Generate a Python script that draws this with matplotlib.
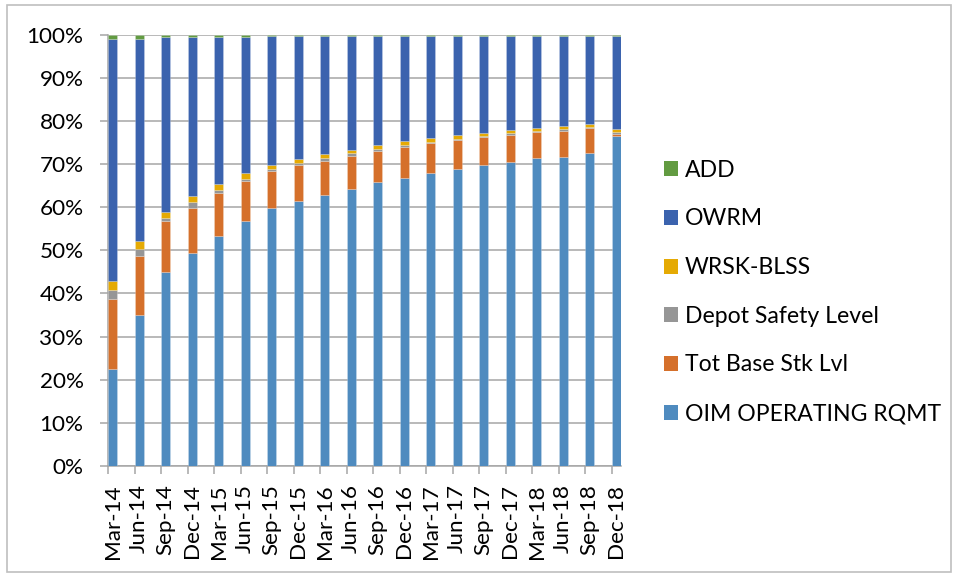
import matplotlib
matplotlib.use("Agg")
import matplotlib.pyplot as plt
from matplotlib.patches import Rectangle, Patch
import numpy as np

plt.rcParams['font.family'] = ['Lato', 'DejaVu Sans']

# Quarterly periods
periods = ["Mar-14", "Jun-14", "Sep-14", "Dec-14", "Mar-15", "Jun-15", "Sep-15",
           "Dec-15", "Mar-16", "Jun-16", "Sep-16", "Dec-16", "Mar-17", "Jun-17",
           "Sep-17", "Dec-17", "Mar-18", "Jun-18", "Sep-18", "Dec-18"]

# Share of total requirement per component (percent), bottom to top
oim_operating = [22.4, 35.0, 44.9, 49.3, 53.4, 56.8, 59.8, 61.5, 62.9, 64.3,
                 65.8, 66.8, 67.9, 68.9, 69.8, 70.5, 71.4, 71.6, 72.6, 76.5]
tot_base_stk = [16.3, 13.6, 11.9, 10.6, 10.0, 9.3, 8.6, 8.2, 7.9, 7.6,
                7.3, 7.1, 6.9, 6.6, 6.5, 6.2, 6.1, 6.1, 5.8, 0.4]
depot_safety = [2.1, 1.7, 0.7, 1.4, 0.6, 0.5, 0.5, 0.5, 0.7, 0.6,
                0.4, 0.6, 0.4, 0.4, 0.3, 0.5, 0.2, 0.4, 0.2, 0.6]
wrsk_blss = [2.1, 1.9, 1.4, 1.4, 1.3, 1.3, 0.9, 1.0, 0.9, 0.8,
             1.0, 0.9, 0.9, 0.8, 0.7, 0.8, 0.7, 0.8, 0.8, 0.7]
owrm = [56.2, 46.9, 40.5, 36.7, 34.1, 31.6, 29.8, 28.4, 27.2, 26.3,
        25.1, 24.2, 23.5, 22.9, 22.3, 21.6, 21.2, 20.7, 20.2, 21.4]
add = [0.9, 0.9, 0.6, 0.6, 0.6, 0.5, 0.4, 0.4, 0.4, 0.4,
       0.4, 0.4, 0.4, 0.4, 0.4, 0.4, 0.4, 0.4, 0.4, 0.4]

series = [
    ("OIM OPERATING RQMT", oim_operating, "#4f8bbf"),
    ("Tot Base Stk Lvl", tot_base_stk, "#d5702b"),
    ("Depot Safety Level", depot_safety, "#969696"),
    ("WRSK-BLSS", wrsk_blss, "#e5aa04"),
    ("OWRM", owrm, "#3b63ae"),
    ("ADD", add, "#629b41"),
]

W, H = 956, 577
fig = plt.figure(figsize=(W / 100, H / 100), dpi=100)
ax = fig.add_axes([108.3 / W, 1 - 466 / H, (620.7 - 108.3) / W, (466 - 34.7) / H])

x = np.arange(len(periods))
bar_w = 0.335
stack = np.array([np.asarray(v, float) for _, v, _ in series])
totals = stack.sum(axis=0)
bottom = np.zeros(len(periods))
handles = []
for (name, vals, col), row in zip(series, stack):
    pct = row / totals * 100
    ax.bar(x, pct, bar_w, bottom=bottom, align="edge", color=col,
           edgecolor=(1, 1, 1, 0.35), linewidth=0.4, zorder=3)
    bottom += pct
    handles.append(Patch(facecolor=col, edgecolor="none", label=name))

grid_col = "#a6a6a6"
ax.set_ylim(0, 100)
ax.set_xlim(0, len(periods) - 1 + bar_w)
ax.set_yticks(np.arange(0, 101, 10))
ax.set_yticklabels([f"{v}%" for v in range(0, 101, 10)])
ax.yaxis.grid(True, color=grid_col, linewidth=1.1, zorder=0)
ax.set_axisbelow(True)

# Tick marks at each bar's left edge; labels centred under the bars
ax.set_xticks(x + bar_w / 2)
ax.set_xticklabels(periods, rotation=90)
ax.set_xticks(x, minor=True)
ax.tick_params(axis="x", which="major", length=0, pad=13, labelsize=16.2)
ax.tick_params(axis="x", which="minor", length=5.8, width=1.1, color=grid_col)
ax.tick_params(axis="y", length=5.8, width=1.1, color=grid_col, pad=12, labelsize=16.2)

for side in ("top", "right"):
    ax.spines[side].set_visible(False)
for side in ("left", "bottom"):
    ax.spines[side].set_color(grid_col)
    ax.spines[side].set_linewidth(1.1)

leg = fig.legend(handles=handles[::-1], loc="center left",
                 bbox_to_anchor=(643 / W, 1 - 292 / H), frameon=False,
                 fontsize=16.6, handlelength=0.62, handleheight=0.62,
                 handletextpad=0.3, labelspacing=1.2)

# Chart outline
fig.patches.append(Rectangle((7 / W, 5 / H), (951 - 7) / W, (572 - 5) / H,
                             transform=fig.transFigure, fill=False,
                             edgecolor="#bfbfbf", linewidth=1.2))

fig.savefig("out.png", dpi=100)
